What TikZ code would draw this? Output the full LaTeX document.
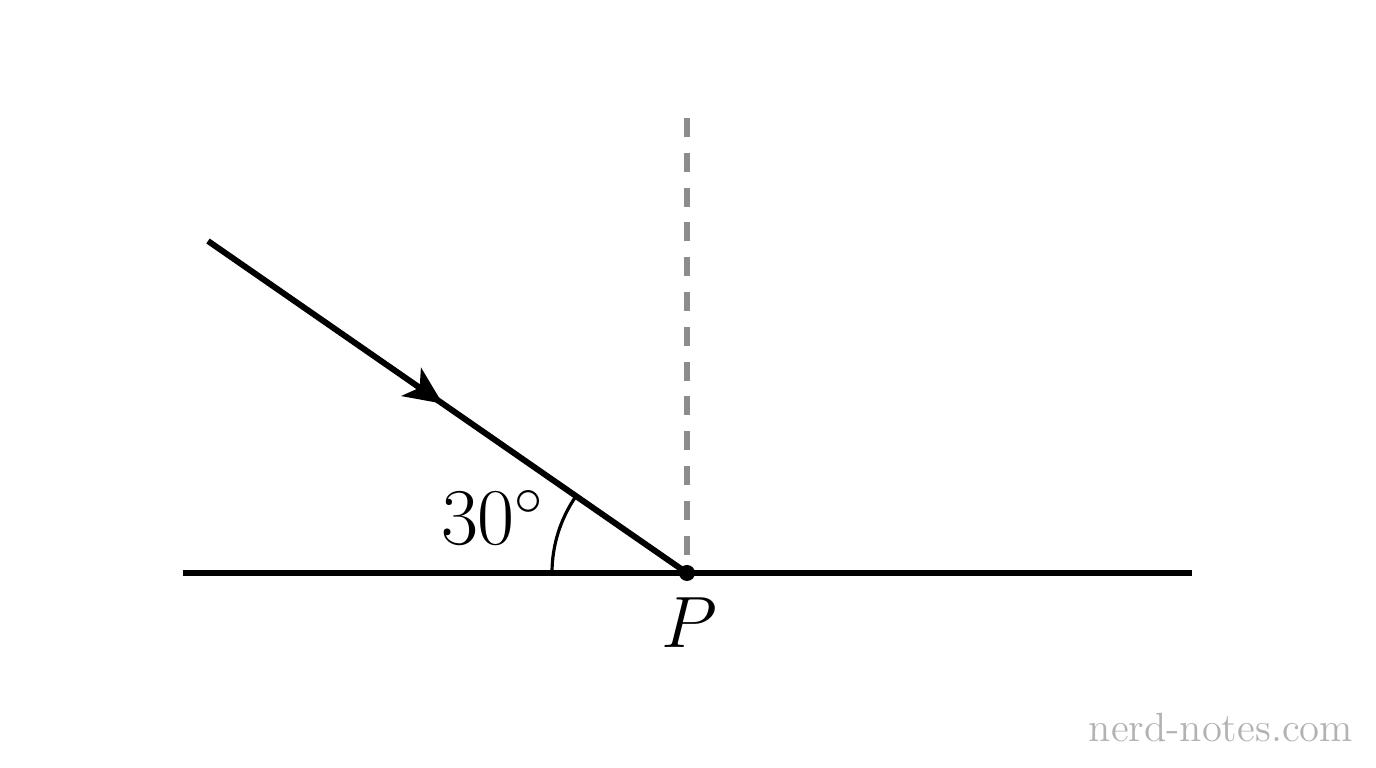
\RequirePackage{fix-cm}
\documentclass[tikz,border=0pt]{standalone}
\usetikzlibrary{arrows.meta,decorations.markings}
\begin{document}
\begin{tikzpicture}[
  ray/.style={line width=1.7pt},
  normal/.style={line width=1.5pt, black!45, dash pattern=on 5.4pt off 4.5pt},
  midarrow/.style={postaction={decorate}, decoration={markings,
    mark=at position 0.49 with {\arrow{Stealth[length=3.8mm,width=3.4mm,inset=1mm]}}}}
]
% Set the page size
\useasboundingbox (-6.87, -1.95) rectangle (6.89, 5.73);

% Points of the figure
\coordinate (P) at (0, 0);
\coordinate (surfL) at (-5.04, 0);
\coordinate (surfR) at (5.05, 0);
\coordinate (normTop) at (0, 4.55);
\coordinate (rayStart) at (-4.79, 3.32);

% Normal line and surface
\draw[normal] (normTop) -- (P);
\draw[ray] (surfL) -- (surfR);

% Incoming ray with arrow
\draw[ray, midarrow] (rayStart) -- (P);

% Angle arc and labels
\draw[line width=0.9pt] (P) ++(-1.35, 0) arc[start angle=180, end angle=145.27, radius=1.35];
\fill (P) circle (0.08);
\node[anchor=base, font=\fontsize{22.9}{27}\selectfont] (angle) at (-1.94, 0.28) {$30^\circ$};
\node[anchor=base, font=\fontsize{20.7}{25}\selectfont] (labelP) at (0.02, -0.75) {$P$};
\node[anchor=base, font=\fontsize{11.6}{14}\selectfont, text=black!30] (mark) at (5.34, -1.69) {nerd-notes.com};
\end{tikzpicture}
\end{document}
